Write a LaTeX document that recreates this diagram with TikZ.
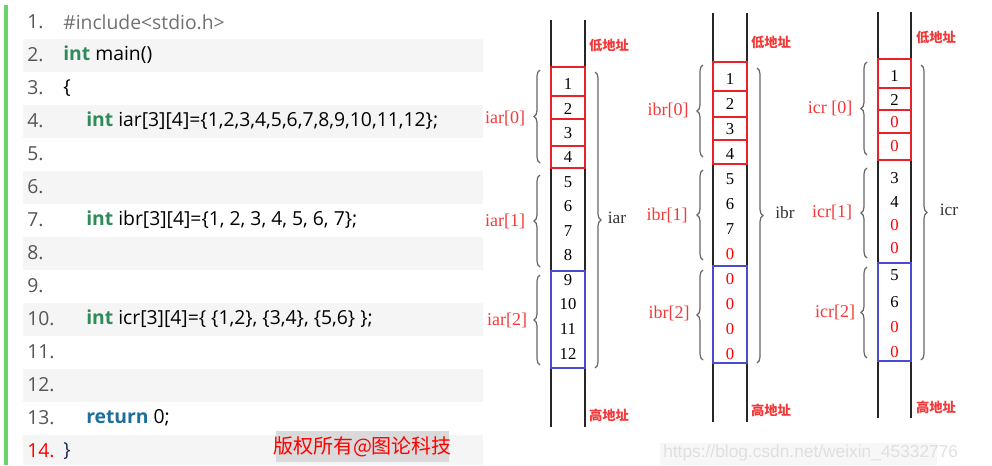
\documentclass[tikz,border=0pt]{standalone}
\usepackage{fontspec}
\setmainfont{Liberation Serif}
\newfontfamily\codefont{Open Sans}
\newfontfamily\cjkfont{Noto Sans CJK SC}
\newfontfamily\urlfont{Liberation Sans}
\usetikzlibrary{decorations.pathreplacing}
\definecolor{kwgreen}{HTML}{2E8B5A}
\definecolor{kwblue}{HTML}{1E6E9C}
\definecolor{lngray}{HTML}{555555}
\definecolor{incgray}{HTML}{707070}
\definecolor{rowbg}{HTML}{F5F5F5}
\definecolor{bargreen}{HTML}{6AD46A}
\definecolor{memred}{HTML}{E8222A}
\definecolor{memblue}{HTML}{4B4BCF}
\definecolor{lblred}{HTML}{F23A3A}
\definecolor{navy}{HTML}{1A2A5A}
\definecolor{wmbg}{HTML}{DADADA}
\definecolor{urlgray}{HTML}{E0E0E0}
\definecolor{urlbg}{HTML}{F7F7F7}
\tikzset{
  codetxt/.style={anchor=west, inner sep=0pt, font=\codefont\fontsize{14.5}{16}\selectfont},
  lnumtxt/.style={codetxt, text=lngray},
  cell/.style={inner sep=0pt, font=\fontsize{12.5}{14}\selectfont},
  zcell/.style={cell, text=red},
  arrlbl/.style={inner sep=0pt, text=lblred, font=\fontsize{13.5}{15}\selectfont},
  addrlbl/.style={inner sep=0pt, text=lblred, font=\cjkfont\bfseries\fontsize{10}{12}\selectfont},
  namelbl/.style={inner sep=0pt, text=black!80, font=\fontsize{13}{15}\selectfont},
  wall/.style={line width=1.6pt, black!85},
  redbox/.style={draw=memred, line width=2pt},
  bluebox/.style={draw=memblue, line width=1.6pt},
  bracel/.style={decorate, decoration={brace, amplitude=4.5pt}, draw=black!60, line width=0.9pt},
}
\begin{document}
\begin{tikzpicture}[x=0.75pt,y=-0.75pt]
\useasboundingbox (0,0) rectangle (992,465);
% ---------------- code panel ----------------
\foreach \r in {2,4,6,8,10,12}
  \fill[rowbg] (23,{22+33*(\r-1)-16.5}) rectangle (483,{22+33*(\r-1)+16.5});
\fill[rowbg] (23,{22+33*13-16.5}) rectangle (483,465);
\fill[bargreen] (4,5) rectangle (8,465);
\foreach \r in {1,...,13}
  \node[lnumtxt] (ln\r) at (27,{22+33*(\r-1)}) {\r.};
\node[codetxt, text=red] (ln14) at (27,451) {14.};
\node[codetxt, text=incgray] (c1) at (63,22) {\#include<stdio.h>};
\node[codetxt] (c2) at (63,55) {\textcolor{kwgreen}{\bfseries int} main()};
\node[codetxt] (c3) at (63,88) {\{};
\node[codetxt] (c4) at (86,121) {\textcolor{kwgreen}{\bfseries int} iar[3][4]=\{1,2,3,4,5,6,7,8,9,10,11,12\};};
\node[codetxt] (c7) at (86,220) {\textcolor{kwgreen}{\bfseries int} ibr[3][4]=\{1, 2, 3, 4, 5, 6, 7\};};
\node[codetxt] (c10) at (86,319) {\textcolor{kwgreen}{\bfseries int} icr[3][4]=\{ \{1,2\}, \{3,4\}, \{5,6\} \};};
\node[codetxt] (c13) at (86,418) {\textcolor{kwblue}{\bfseries return} 0;};
\node[codetxt, text=navy] (c14) at (63,451) {\}};
\fill[wmbg] (276,431) rectangle (449,462);
\node[inner sep=0pt, text=red, font=\cjkfont\fontsize{15}{17}\selectfont] (wm) at (362.5,447) {版权所有@图论科技};
% ---------------- iar column ----------------
\draw[wall] (551,20) -- (551,427);
\draw[wall] (585,20) -- (585,427);
\node[addrlbl] (alow) at (609,45) {低地址};
\node[addrlbl] (ahigh) at (609,415) {高地址};
\foreach \v [count=\k] in {1,...,12}
  \node[cell] (a\k) at (568,{84+24.5*(\k-1)}) {\v};
\draw[redbox] (551,67) rectangle (585,96);
\draw[redbox] (551,96) rectangle (585,119);
\draw[redbox] (551,119) rectangle (585,146);
\draw[redbox] (551,146) rectangle (585,168);
\draw[bluebox] (551,271) rectangle (585,368);
\draw[bracel] (540,163) -- (540,70);
\draw[bracel] (540,267) -- (540,175);
\draw[bracel] (540,365) -- (540,275);
\draw[bracel] (595,72) -- (595,368);
\node[arrlbl] (a0) at (505,118) {iar[0]};
\node[arrlbl] (a1l) at (505,221) {iar[1]};
\node[arrlbl] (a2l) at (507,320) {iar[2]};
\node[namelbl] (aname) at (617,218) {iar};
% ---------------- ibr column ----------------
\draw[wall] (713,13) -- (713,422);
\draw[wall] (747,13) -- (747,422);
\node[addrlbl] (blow) at (771,42) {低地址};
\node[addrlbl] (bhigh) at (771,410) {高地址};
\foreach \v/\s [count=\k] in {1/cell,2/cell,3/cell,4/cell,5/cell,6/cell,7/cell,0/zcell,0/zcell,0/zcell,0/zcell,0/zcell}
  \node[\s] (b\k) at (730,{79+25*(\k-1)}) {\v};
\draw[redbox] (713,62) rectangle (747,91);
\draw[redbox] (713,91) rectangle (747,117);
\draw[redbox] (713,117) rectangle (747,140);
\draw[redbox] (713,140) rectangle (747,164);
\draw[bluebox] (713,266) rectangle (747,363);
\draw[bracel] (703,157) -- (703,65);
\draw[bracel] (703,260) -- (703,170);
\draw[bracel] (703,360) -- (703,270);
\draw[bracel] (757,68) -- (757,363);
\node[arrlbl] (b0) at (668,110) {ibr[0]};
\node[arrlbl] (b1l) at (667,215) {ibr[1]};
\node[arrlbl] (b2l) at (669,313) {ibr[2]};
\node[namelbl] (bname) at (785,213) {ibr};
% ---------------- icr column ----------------
\draw[wall] (878,12) -- (878,418);
\draw[wall] (911,12) -- (911,418);
\node[addrlbl] (clow) at (936,37) {低地址};
\node[addrlbl] (chigh) at (936,407) {高地址};
\foreach \v/\s/\y [count=\k] in {1/cell/76,2/cell/100,0/zcell/122,0/zcell/146,3/cell/178,4/cell/202,0/zcell/225,0/zcell/248,5/cell/275,6/cell/302,0/zcell/327,0/zcell/352}
  \node[\s] (c\k x) at (894.5,\y) {\v};
\draw[redbox] (878,59) rectangle (911,88);
\draw[redbox] (878,88) rectangle (911,110);
\draw[redbox] (878,110) rectangle (911,133);
\draw[redbox] (878,133) rectangle (911,160);
\draw[bluebox] (878,263) rectangle (911,361);
\draw[bracel] (867,155) -- (867,62);
\draw[bracel] (867,258) -- (867,168);
\draw[bracel] (867,358) -- (867,267);
\draw[bracel] (921,65) -- (921,360);
\node[arrlbl] (c0l) at (830,108) {icr [0]};
\node[arrlbl] (c1l) at (832,212) {icr[1]};
\node[arrlbl] (c2l) at (835,312) {icr[2]};
\node[namelbl] (cname) at (949,210) {icr};
% ---------------- url watermark ----------------
\fill[urlbg] (660,443) rectangle (937,465);
\node[inner sep=0pt, anchor=west, text=urlgray, font=\urlfont\fontsize{13}{15}\selectfont] (url) at (663,453) {https://blog.csdn.net/weixin\_45332776};
\end{tikzpicture}
\end{document}
